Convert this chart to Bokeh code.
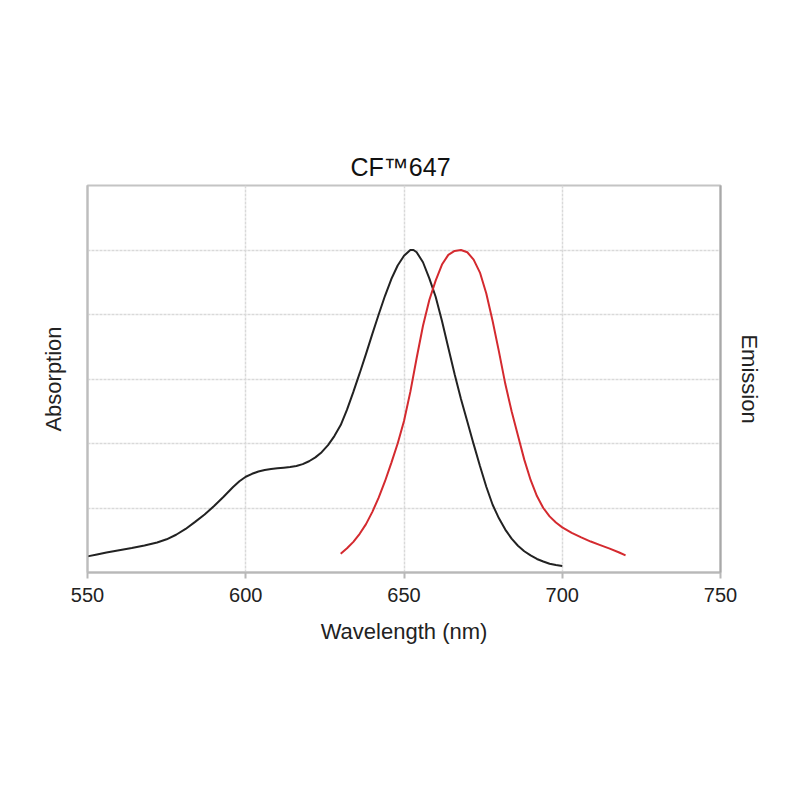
from bokeh.plotting import figure
from bokeh.models import Range1d, LinearAxis, FixedTicker
from bokeh.embed import file_html
from bokeh.resources import INLINE

title_text = "CF\u2122647"
x_label = "Wavelength (nm)"
left_label = "Absorption"
right_label = "Emission"
x_ticks = [550, 600, 650, 700, 750]
x_grid = [600, 650, 700]
y_grid = [0.2, 0.4, 0.6, 0.8, 1.0]

abs_x = [550, 553, 556, 560, 564, 568, 572, 575, 578, 581, 584, 587, 590, 593, 596,
         598, 600, 602, 604, 606, 608, 610, 612, 614, 616, 618, 620, 622, 624, 626,
         628, 630, 632, 634, 636, 638, 640, 642, 644, 646, 648, 650, 652, 653, 654,
         656, 658, 660, 662, 664, 666, 668, 670, 672, 674, 676, 678, 680, 682, 684,
         686, 688, 690, 692, 694, 696, 698, 700]
abs_y = [0.050, 0.056, 0.062, 0.069, 0.076, 0.084, 0.093, 0.103, 0.117, 0.135, 0.157,
         0.180, 0.206, 0.235, 0.265, 0.283, 0.297, 0.306, 0.313, 0.318, 0.321, 0.323,
         0.325, 0.327, 0.330, 0.336, 0.345, 0.357, 0.373, 0.395, 0.423, 0.457, 0.505,
         0.560, 0.618, 0.678, 0.740, 0.800, 0.858, 0.910, 0.952, 0.982, 1.000, 1.000,
         0.993, 0.962, 0.912, 0.855, 0.780, 0.697, 0.615, 0.538, 0.468, 0.398, 0.330,
         0.266, 0.210, 0.168, 0.133, 0.105, 0.083, 0.066, 0.053, 0.042, 0.034, 0.027,
         0.023, 0.020]

em_x = [630, 632, 634, 636, 638, 640, 642, 644, 646, 648, 650, 652, 654, 656, 658,
        660, 662, 664, 666, 668, 670, 672, 674, 676, 678, 680, 682, 684, 686, 688,
        690, 692, 694, 696, 698, 700, 703, 706, 709, 712, 715, 718, 720]
em_y = [0.058, 0.075, 0.095, 0.120, 0.150, 0.188, 0.232, 0.283, 0.340, 0.400, 0.470,
        0.560, 0.665, 0.765, 0.845, 0.905, 0.955, 0.985, 0.997, 1.000, 0.993, 0.970,
        0.930, 0.865, 0.780, 0.685, 0.585, 0.500, 0.425, 0.350, 0.287, 0.237, 0.200,
        0.174, 0.155, 0.140, 0.123, 0.109, 0.096, 0.085, 0.074, 0.062, 0.053]

FONT = "Liberation Sans"

p = figure(frame_width=633, frame_height=387,
           min_border_left=87, min_border_right=72, min_border_top=185, min_border_bottom=220,
           x_range=Range1d(550, 750), y_range=Range1d(0, 1.2),
           output_backend="svg", toolbar_location=None, title=title_text)

p.title.align = "left"
p.title.offset = 263
p.title.text_font = FONT
p.title.text_font_size = "25px"
p.title.text_font_style = "normal"
p.title.text_color = "#111111"
p.title.standoff = 9

p.outline_line_color = "#c4c4c4"
p.outline_line_width = 2

# x axis
xa = p.xaxis[0]
xa.ticker = FixedTicker(ticks=x_ticks)
xa.axis_label = x_label
xa.axis_label_text_font = FONT
xa.axis_label_text_font_size = "22px"
xa.axis_label_text_font_style = "normal"
xa.axis_label_text_color = "#222222"
xa.axis_label_standoff = 14
xa.major_label_text_font = FONT
xa.major_label_text_font_size = "20px"
xa.major_label_text_color = "#222222"
xa.major_label_standoff = 9
xa.axis_line_color = "#b8b8b8"
xa.axis_line_width = 2
xa.major_tick_line_color = "#b8b8b8"
xa.major_tick_line_width = 2
xa.major_tick_out = 6
xa.major_tick_in = 0
xa.minor_tick_line_color = None

# left axis
ya = p.yaxis[0]
ya.ticker = FixedTicker(ticks=[])
ya.axis_label = left_label
ya.axis_label_text_font = FONT
ya.axis_label_text_font_size = "22px"
ya.axis_label_text_font_style = "normal"
ya.axis_label_text_color = "#222222"
ya.axis_label_standoff = 22
ya.axis_line_color = "#bdbdbd"
ya.axis_line_width = 2
ya.major_tick_line_color = None
ya.minor_tick_line_color = None

# right axis
ra = LinearAxis(ticker=FixedTicker(ticks=[]), axis_label=right_label)
ra.axis_label_text_font = FONT
ra.axis_label_text_font_size = "22px"
ra.axis_label_text_font_style = "normal"
ra.axis_label_text_color = "#222222"
ra.axis_label_standoff = 16
ra.axis_line_color = "#a8a8a8"
ra.axis_line_width = 2
ra.major_tick_line_color = None
ra.minor_tick_line_color = None
p.add_layout(ra, "right")

# grids
p.xgrid.ticker = FixedTicker(ticks=x_grid)
p.ygrid.ticker = FixedTicker(ticks=y_grid)
for g in (p.xgrid, p.ygrid):
    g.grid_line_color = "#d9d9d9"
    g.grid_line_width = 1.5
    g.grid_line_dash = "3 1"

p.line(abs_x, abs_y, line_color="#222222", line_width=2)
p.line(em_x, em_y, line_color="#d42a2f", line_width=2)

open("out.html", "w").write(file_html(p, INLINE))
